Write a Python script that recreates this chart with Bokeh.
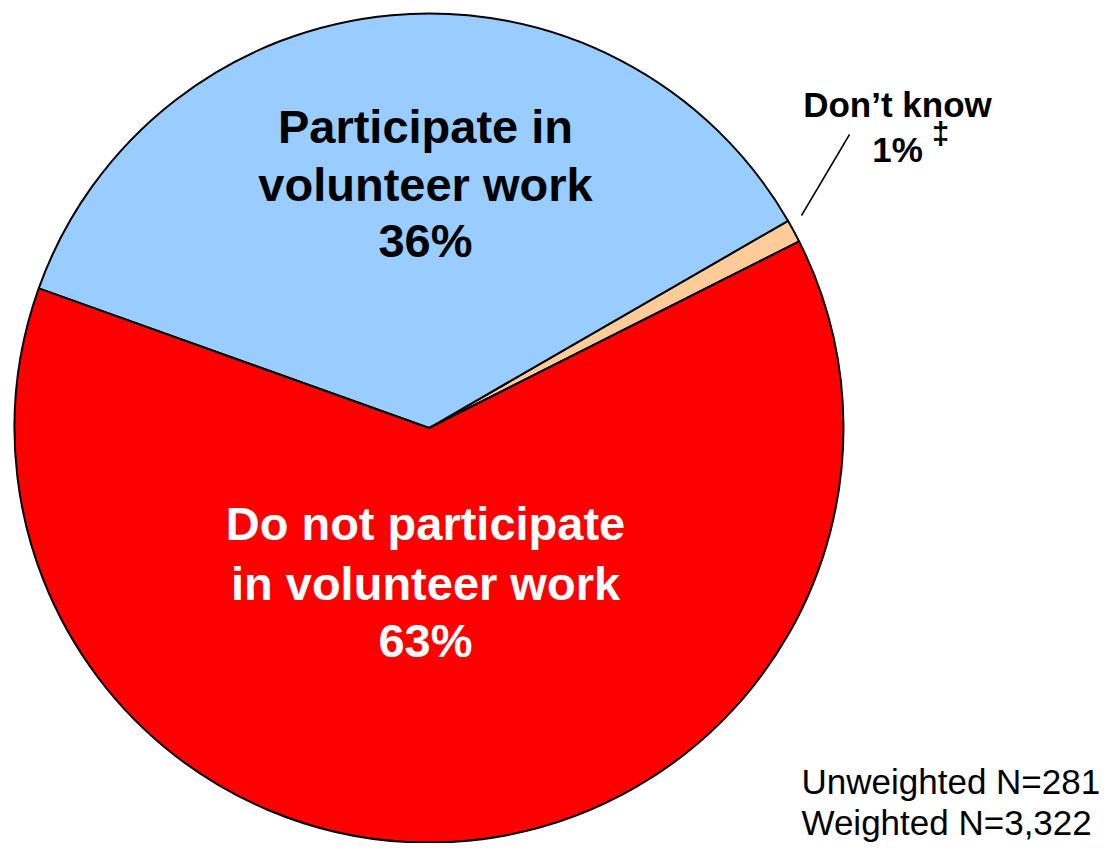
import math
from bokeh.plotting import figure
from bokeh.models import Range1d, ColumnDataSource
from bokeh.core.properties import value
from bokeh.embed import file_html
from bokeh.resources import INLINE

# ---- data ----
categories = ["Don’t know", "Participate in volunteer work", "Do not participate in volunteer work"]
percent_values = [0.9, 36.2, 62.9]
percent_labels = ["1%", "36%", "63%"]
slice_colors = ["#FFCC99", "#99CCFF", "#FF0000"]
blue_label_lines = ["Participate in", "volunteer work", "36%"]
red_label_lines = ["Do not participate", "in volunteer work", "63%"]
dk_label_lines = ["Don’t know", "1%"]
footer_lines = ["Unweighted N=281", "Weighted N=3,322"]

# ---- layout (1 data unit = 1 pixel of the picture; data y = 859 - picture y) ----
W, H = 1104, 843
SH = 859
def sy(y):
    return SH - y

FONT = value("Liberation Sans")

p = figure(width=W, height=H, output_backend="svg", toolbar_location=None,
           x_range=Range1d(0, W), y_range=Range1d(SH - H, SH),
           x_axis_location=None, y_axis_location=None, min_border=0)
p.grid.visible = False
p.outline_line_color = None
p.background_fill_color = "white"
p.border_fill_color = "white"

cx, cy, R = 428.5, sy(427.5), 414.5
start_deg = 26.75
total = sum(percent_values)
starts, ends = [], []
acc = start_deg
for v in percent_values:
    a0 = acc
    acc += v / total * 360.0
    starts.append(math.radians(a0))
    ends.append(math.radians(acc))

src = ColumnDataSource(dict(cat=categories, start=starts, end=ends, color=slice_colors,
                            x=[cx] * 3, y=[cy] * 3))
p.wedge(x="x", y="y", radius=R, radius_units="data", start_angle="start", end_angle="end",
        fill_color="color", line_color="black", line_width=2, source=src)

# big labels
p.text(x=[425] * 3, y=[sy(126), sy(184), sy(240)], text=blue_label_lines,
       text_font=FONT, text_font_style="bold", text_font_size="47px",
       text_color="black", text_align="center", text_baseline="alphabetic")
p.text(x=[425] * 3, y=[sy(523), sy(583), sy(640)], text=red_label_lines,
       text_font=FONT, text_font_style="bold", text_font_size="47px",
       text_color="white", text_align="center", text_baseline="alphabetic")

# Don't know label + leader
p.text(x=[897, 897], y=[sy(103.5), sy(148.5)], text=dk_label_lines,
       text_font=FONT, text_font_style="bold", text_font_size="35px",
       text_color="black", text_align="center", text_baseline="alphabetic")
p.text(x=[940], y=[sy(133)], text=["‡"], text_font=FONT, text_font_size="31px",
       text_font_style="bold", text_color="black", text_align="center",
       text_baseline="middle")
p.line(x=[849, 801], y=[sy(134), sy(215)], line_color="black", line_width=1.5)

# footer
p.text(x=[801, 801], y=[sy(781), sy(822)], text=footer_lines,
       text_font=FONT, text_font_size="35px", text_color="black",
       text_align="left", text_baseline="alphabetic")

open("out.html", "w").write(file_html(p, INLINE))
